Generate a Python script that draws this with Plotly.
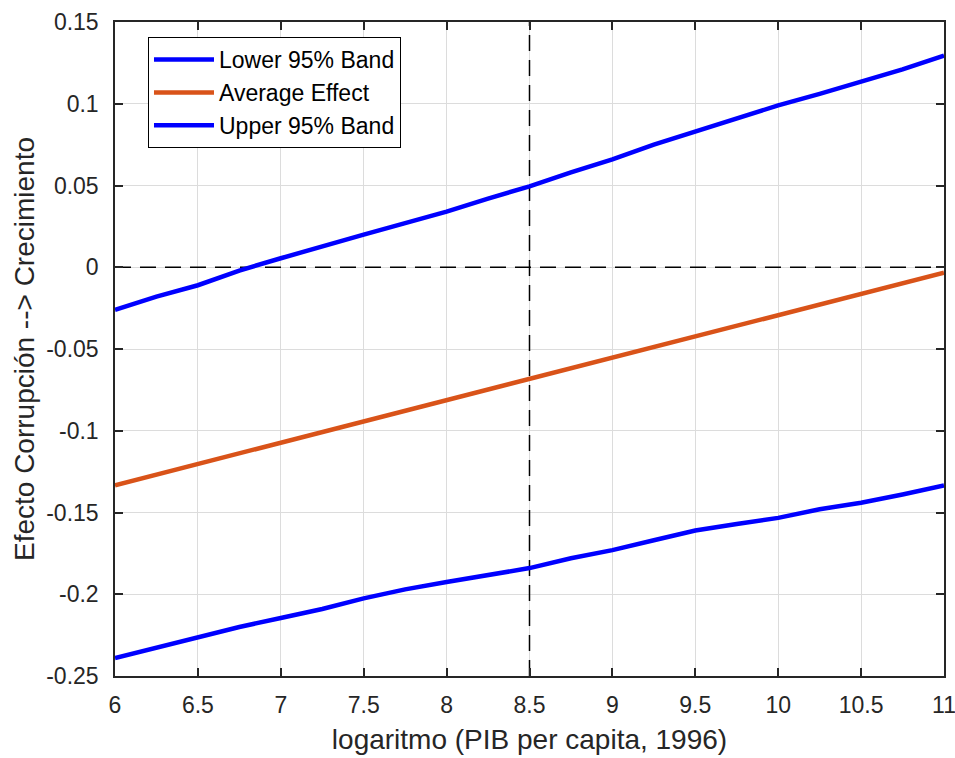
import plotly.graph_objects as go

x_vals = [6, 6.25, 6.5, 6.75, 7, 7.25, 7.5, 7.75, 8, 8.25, 8.5, 8.75, 9, 9.25,
          9.5, 9.75, 10, 10.25, 10.5, 10.75, 11]
lower_band = [-0.239, -0.2325, -0.226, -0.220, -0.2145, -0.209, -0.2025, -0.197,
              -0.1925, -0.188, -0.184, -0.178, -0.173, -0.167, -0.161, -0.157,
              -0.1533, -0.148, -0.144, -0.139, -0.1335]
average_effect = [-0.1333, -0.1268, -0.1203, -0.1138, -0.1073, -0.1008, -0.0943,
                  -0.0878, -0.0813, -0.0748, -0.0683, -0.0618, -0.0553, -0.0488,
                  -0.0423, -0.0358, -0.0293, -0.0228, -0.0163, -0.0098, -0.0033]
upper_band = [-0.026, -0.018, -0.011, -0.002, 0.0055, 0.013, 0.020, 0.027, 0.034,
              0.042, 0.0495, 0.058, 0.066, 0.075, 0.083, 0.091, 0.099, 0.106,
              0.1135, 0.121, 0.1295]

x_ticks = [6, 6.5, 7, 7.5, 8, 8.5, 9, 9.5, 10, 10.5, 11]
x_ticktext = ["6", "6.5", "7", "7.5", "8", "8.5", "9", "9.5", "10", "10.5", "11"]
y_ticks = [0.15, 0.1, 0.05, 0, -0.05, -0.1, -0.15, -0.2, -0.25]
y_ticktext = ["0.15", "0.1", "0.05", "0", "-0.05", "-0.1", "-0.15", "-0.2", "-0.25"]

ref_x = 8.5
ref_y = 0
x_range = [6, 11]
y_range = [-0.25, 0.15]

FONT = "Liberation Sans, Arial, Helvetica, sans-serif"
TXT = "#262626"

fig = go.Figure()
fig.add_trace(go.Scatter(x=x_range, y=[ref_y, ref_y], mode="lines",
                         line=dict(color="black", width=1.5, dash="16px,9px"),
                         showlegend=False, hoverinfo="skip"))
fig.add_trace(go.Scatter(x=[ref_x, ref_x], y=y_range, mode="lines",
                         line=dict(color="black", width=1.5, dash="16px,9px"),
                         showlegend=False, hoverinfo="skip"))
fig.add_trace(go.Scatter(x=x_vals, y=lower_band, mode="lines", name="Lower 95% Band",
                         line=dict(color="#0000FF", width=4.5)))
fig.add_trace(go.Scatter(x=x_vals, y=average_effect, mode="lines", name="Average Effect",
                         line=dict(color="#D95319", width=4.5)))
fig.add_trace(go.Scatter(x=x_vals, y=upper_band, mode="lines", name="Upper 95% Band",
                         line=dict(color="#0000FF", width=4.5)))

axis_common = dict(
    showgrid=True, gridcolor="#dcdcdc", gridwidth=1,
    showline=True, linecolor=TXT, linewidth=1.5, mirror="allticks",
    ticks="inside", ticklen=8, tickwidth=1.5, tickcolor=TXT,
    zeroline=False, automargin=False, ticklabeloverflow="allow",
    tickfont=dict(family=FONT, size=23, color=TXT),
)

fig.update_xaxes(range=x_range, tickvals=x_ticks, ticktext=x_ticktext,
                 title=dict(text="logaritmo (PIB per capita, 1996)",
                            font=dict(family=FONT, size=28, color=TXT), standoff=12),
                 ticklabelstandoff=8, **axis_common)
fig.update_yaxes(range=y_range, tickvals=y_ticks, ticktext=y_ticktext,
                 title=dict(text="Efecto Corrupción --> Crecimiento",
                            font=dict(family=FONT, size=28, color=TXT), standoff=3),
                 ticklabelstandoff=10, **axis_common)

fig.update_layout(
    width=955, height=758,
    margin=dict(l=115, r=11, t=22, b=82),
    paper_bgcolor="white", plot_bgcolor="white",
    font=dict(family=FONT, color=TXT),
    legend=dict(x=0.0398, y=0.977, xanchor="left", yanchor="top",
                bgcolor="white", bordercolor="black", borderwidth=1,
                font=dict(family=FONT, size=23, color="black"),
                itemwidth=60, tracegroupgap=0),
)

fig.write_html("out.html")
